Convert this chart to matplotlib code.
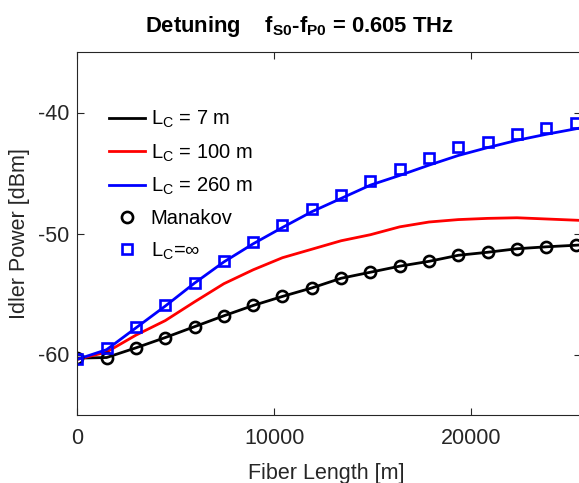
import numpy as np
import matplotlib
matplotlib.use("Agg")
import matplotlib.pyplot as plt

plt.rcParams['font.family'] = ['Liberation Sans', 'DejaVu Sans']
plt.rcParams['mathtext.default'] = 'regular'
plt.rcParams['axes.unicode_minus'] = False

# fiber length points [m]
length = [0, 1488, 2976, 4464, 5952, 7440, 8928, 10416, 11904, 13392,
          14880, 16368, 17856, 19344, 20832, 22320, 23808, 25296]
length_line = length + [26000]

# idler power [dBm]
p_lc7 = [-60.3, -60.25, -59.45, -58.6, -57.7, -56.8, -55.95, -55.2, -54.5, -53.7,
         -53.2, -52.7, -52.3, -51.8, -51.55, -51.26, -51.1, -50.97, -50.9]
p_lc100 = [-60.4, -59.8, -58.4, -57.2, -55.65, -54.15, -53.0, -52.0, -51.3, -50.6,
           -50.1, -49.45, -49.05, -48.85, -48.75, -48.7, -48.8, -48.9, -48.95]
p_lc260 = [-60.4, -59.6, -57.8, -56.0, -54.1, -52.35, -50.85, -49.5, -48.2, -47.1,
           -46.0, -45.2, -44.35, -43.55, -42.9, -42.3, -41.8, -41.35, -41.15]
p_manakov = [-60.3, -60.25, -59.45, -58.6, -57.7, -56.8, -55.95, -55.2, -54.5, -53.7,
             -53.2, -52.7, -52.3, -51.8, -51.55, -51.26, -51.1, -50.97]
p_inf = [-60.41, -59.5, -57.69, -55.95, -54.05, -52.25, -50.7, -49.3, -47.95, -46.78,
         -45.62, -44.63, -43.72, -42.89, -42.4, -41.74, -41.24, -40.83]

W, H = 579, 483
fig = plt.figure(figsize=(W / 100, H / 100), dpi=100)
ax = fig.add_axes([77.3 / W, (H - 415) / H, (581 - 77.3) / W, 363 / H])

ax.plot(length_line, p_lc7, color='k', lw=2, label='$L_C$ = 7 m')
ax.plot(length_line, p_lc100, color='r', lw=2, label='$L_C$ = 100 m')
ax.plot(length_line, p_lc260, color='b', lw=2, label='$L_C$ = 260 m')
ax.plot(length, p_manakov, 'o', color='k', mfc='none', ms=8, mew=1.9, label='Manakov')
ax.plot(length, p_inf, 's', color='b', mfc='none', ms=7.5, mew=1.9, label='$L_C$=\u221e')

ax.set_xlim(0, 25570)
ax.set_ylim(-65, -35)
ax.set_xticks([0, 10000, 20000])
ax.set_yticks([-60, -50, -40])

gray = '#262626'
for s in ax.spines.values():
    s.set_color(gray)
    s.set_linewidth(0.8)
ax.tick_params(direction='in', length=5, top=True, right=True,
               labelsize=15.5, colors=gray, pad=6)
ax.tick_params(axis='x', pad=9)

fig.text(20 / W, 1 - 233.5 / H, 'Idler Power [dBm]', rotation=90,
         ha='center', va='center', fontsize=15.5, color=gray)
fig.text(326.5 / W, 1 - 473 / H, 'Fiber Length [m]',
         ha='center', va='center', fontsize=15.5, color=gray)
fig.text(299 / W, 1 - 31.7 / H, 'Detuning    $f_{S0}$-$f_{P0}$ = 0.605 THz',
         ha='center', va='baseline', fontsize=15.8, fontweight='bold')

ax.legend(loc='upper left', bbox_to_anchor=(0.063, 0.843), frameon=False,
          fontsize=14.5, borderpad=0, borderaxespad=0, handlelength=1.8,
          handletextpad=0.26, labelspacing=0.6, numpoints=1)

fig.savefig('out.png', dpi=100)
